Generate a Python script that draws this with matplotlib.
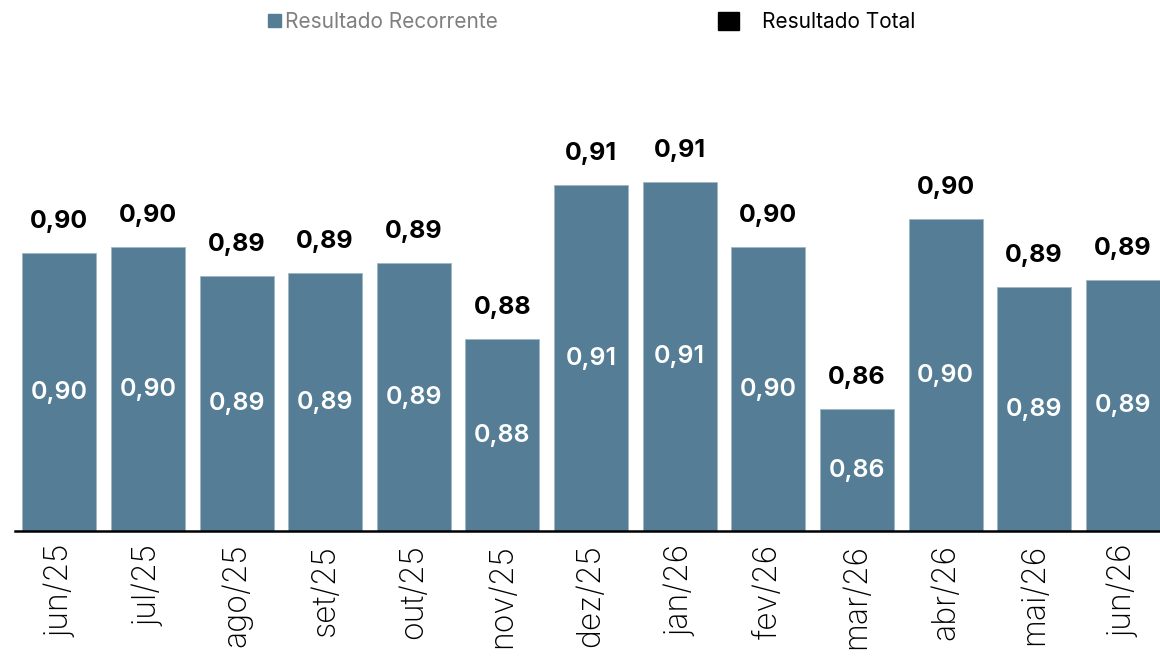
import numpy as np
import matplotlib.pyplot as plt
from matplotlib.patches import Patch

plt.rcParams['font.family'] = ['Inter', 'DejaVu Sans']

# Months
meses = ['jun/25', 'jul/25', 'ago/25', 'set/25', 'out/25', 'nov/25', 'dez/25',
         'jan/26', 'fev/26', 'mar/26', 'abr/26', 'mai/26', 'jun/26']

# Resultado Recorrente (bar heights)
recorrente = [0.8957, 0.8969, 0.8911, 0.8917, 0.8937, 0.8785, 0.9093,
              0.9099, 0.8969, 0.8645, 0.9025, 0.8889, 0.8903]

# Resultado Total (labels above bars)
total = [0.90, 0.90, 0.89, 0.89, 0.89, 0.88, 0.91, 0.91, 0.90, 0.86, 0.90, 0.89, 0.89]

cor_barra = '#557E96'
ymin = 0.8401


def fmt(v):
    return f'{v:.2f}'.replace('.', ',')


fig = plt.figure(figsize=(11.6, 6.63), dpi=100)
ax = fig.add_axes([0.0129, 0.199, 0.9871, 0.7104])

x = np.arange(len(meses))
ax.bar(x, np.array(recorrente) - ymin, bottom=ymin, width=0.835, color=cor_barra,
       edgecolor='#9fb6c4', linewidth=0.6)

# labels inside bars
for xi, v in zip(x, recorrente):
    ax.text(xi, (v + ymin) / 2, fmt(v), ha='center', va='center',
            color='white', fontsize=18, fontweight='semibold')

# labels above bars
for xi, v, t in zip(x, recorrente, total):
    ax.annotate(fmt(t), (xi, v), xytext=(0, 23), textcoords='offset points',
                ha='center', va='center', color='black', fontsize=18, fontweight='bold')

ax.set_xlim(-0.5, 12.42)
ax.set_ylim(ymin, ymin + 471 * 0.0002)
ax.set_xticks(x)
ax.set_xticklabels(meses, rotation=90, fontsize=23, fontweight='light')
ax.tick_params(axis='x', length=0, pad=9)
ax.set_yticks([])
for s in ['top', 'right', 'left']:
    ax.spines[s].set_visible(False)
ax.spines['bottom'].set_linewidth(1.8)

# legend
fig.legend(handles=[Patch(color=cor_barra)], labels=['Resultado Recorrente'],
           loc='center left', bbox_to_anchor=(0.215, 0.967), frameon=False,
           fontsize=15, handlelength=0.6, handleheight=0.6, handletextpad=0.2,
           labelcolor='#7f7f7f')
fig.legend(handles=[Patch(color='black')], labels=['Resultado Total'],
           loc='center left', bbox_to_anchor=(0.603, 0.967), frameon=False,
           fontsize=15, handlelength=1.0, handleheight=1.0, handletextpad=1.1,
           labelcolor='black')

plt.savefig('out.png', dpi=100)
